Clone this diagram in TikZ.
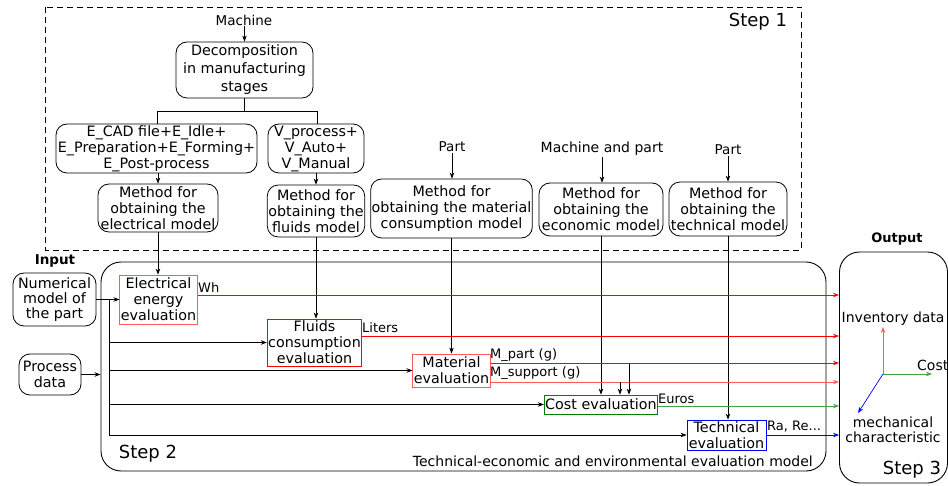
\documentclass[tikz,border=0pt]{standalone}
\usepackage{fontspec}
\setmainfont{DejaVu Sans}
\usetikzlibrary{arrows.meta}
\definecolor{lred}{RGB}{255,90,90}
\definecolor{dgreen}{RGB}{0,128,0}
\definecolor{lgreen}{RGB}{70,160,70}
\begin{document}
\begin{tikzpicture}[x=1pt,y=-1pt,
  every node/.style={inner sep=1pt},
  txt/.style={font=\fontsize{14.3}{16}\selectfont, align=center},
  lbl/.style={font=\fontsize{13}{15}\selectfont},
  biglbl/.style={font=\fontsize{14}{15.5}\selectfont},
  steplbl/.style={font=\fontsize{18}{20}\selectfont},
  rbox/.style={txt, draw, rounded corners=11pt, line width=0.8pt},
  ebox/.style={txt, draw, line width=0.8pt},
  arr/.style={-{Stealth[length=6pt,width=4.5pt]}, line width=0.7pt},
  bigbox/.style={draw, rounded corners=20pt, line width=0.9pt}
]
\useasboundingbox (0,0) rectangle (948,486);

% ---------- Step 1 ----------
\draw[line width=0.7pt, dash pattern=on 6pt off 4pt] (45.5,7.5) rectangle (801.5,250);
\node[steplbl] (st1) at (758,22) {Step 1};

\node[txt, font=\fontsize{13.5}{16}\selectfont] (machine) at (244,20) {Machine};
\node[rbox, minimum width=137, minimum height=56, font=\fontsize{14.3}{18}\selectfont] (decomp) at (244.5,70)
  {Decomposition\\in manufacturing\\stages};
\node[rbox, minimum width=201, minimum height=49] (ecad) at (156.5,148.5)
  {E\_CAD file+E\_Idle+\\E\_Preparation+E\_Forming+\\E\_Post-process};
\node[rbox, minimum width=96, minimum height=49] (vproc) at (316,148.5)
  {V\_process+\\V\_Auto+\\V\_Manual};
\node[rbox, minimum width=120, minimum height=48] (melec) at (158,208)
  {Method for\\obtaining the\\electrical model};
\node[rbox, minimum width=94, minimum height=52] (mfluid) at (316,211)
  {Method for\\obtaining the\\fluids model};
\node[rbox, minimum width=159, minimum height=59] (mmat) at (451.5,208.5)
  {Method for\\obtaining the material\\consumption model};
\node[rbox, minimum width=124, minimum height=53] (meco) at (601,209.5)
  {Method for\\obtaining the\\economic model};
\node[rbox, minimum width=118, minimum height=54] (mtech) at (728,209)
  {Method for\\obtaining the\\technical model};

\node[txt, font=\fontsize{13.5}{16}\selectfont] (part1) at (452,147) {Part};
\node[txt, font=\fontsize{14}{16}\selectfont] (machpart) at (602,149) {Machine and part};
\node[txt, font=\fontsize{13.5}{16}\selectfont] (part2) at (728,150) {Part};

\draw[arr] (machine.south -| decomp.north) -- (decomp.north);
\coordinate (split) at (244.5,111);
\coordinate (splitl) at (157,111);
\coordinate (splitr) at (317,111);
\draw[line width=0.7pt] (decomp.south) -- (split);
\draw[line width=0.7pt] (splitl) -- (splitr);
\draw[line width=0.7pt] (splitl) -- (splitl |- ecad.north);
\draw[line width=0.7pt] (splitr) -- (splitr |- vproc.north);
\draw[arr] (ecad.south -| melec.north) -- (melec.north);
\draw[arr] (vproc.south -| mfluid.north) -- (mfluid.north);
\draw[arr] (part1.south) -- (part1.south |- mmat.north);
\draw[arr] (machpart.south) -- (machpart.south |- meco.north);
\draw[arr] (part2.south) -- (part2.south |- mtech.north);

% ---------- Step 2 ----------
\node[bigbox, minimum width=725, minimum height=209] (s2) at (463.5,366.5) {};
\node[steplbl] (st2) at (148,454) {Step 2};
\node[biglbl, anchor=east] (model) at (814,461) {Technical-economic and environmental evaluation model};

\node[txt, font=\fontsize{13.5}{16}\bfseries] (input) at (55,261) {Input};
\node[rbox, minimum width=83, minimum height=53, font=\fontsize{14.3}{15}\selectfont] (num) at (54.5,299.5)
  {Numerical\\model of\\the part};
\node[rbox, minimum width=62, minimum height=41] (proc) at (50,374.5) {Process\\data};

\node[ebox, draw=lred, minimum width=75, minimum height=49] (elec) at (158.5,299.5)
  {Electrical\\energy\\evaluation};
\node[ebox, draw=red, minimum width=93, minimum height=47] (fluid) at (314.5,342.5)
  {Fluids\\consumption\\evaluation};
\node[ebox, draw=lred, minimum width=77, minimum height=33] (mat) at (451.5,370.5)
  {Material\\evaluation};
\node[ebox, draw=dgreen, minimum width=112, minimum height=19] (cost) at (601,404.5)
  {Cost evaluation};
\node[ebox, draw=blue, minimum width=79, minimum height=30] (tech) at (726.5,435)
  {Technical\\evaluation};

% inputs
\draw[arr] (num.east) -- (elec.west);
\coordinate (bus) at (109,300);
\draw[line width=0.7pt] (bus) -- (bus |- tech.west);
\draw[arr] (bus |- fluid.west) -- (fluid.west);
\draw[arr] (bus |- mat.west) -- (mat.west);
\draw[arr] (bus |- cost.west) -- (cost.west);
\draw[arr] (bus |- tech.west) -- (tech.west);
\draw[arr] (proc.east) -- (s2.west |- proc.east);

% from step 1 methods
\draw[arr] (melec.south) -- (melec.south |- elec.north);
\draw[arr] (mfluid.south) -- (mfluid.south |- fluid.north);
\draw[arr] (mmat.south) -- (mmat.south |- mat.north);
\draw[arr] (meco.south) -- (meco.south |- cost.north);
\draw[arr] (mtech.south) -- (mtech.south |- tech.north);

% ---------- Output ----------
\node[txt, font=\fontsize{13}{15}\bfseries] (output) at (897,239) {Output};
\node[bigbox, minimum width=108, minimum height=231] (out) at (893.5,367.5) {};
\node[steplbl] (st3) at (912,470) {Step 3};

\coordinate (whs) at ([yshift=4.5pt]elec.east);
\coordinate (lis) at ([yshift=6.5pt]fluid.east);
\coordinate (mps) at ([yshift=7.5pt]mat.east);
\coordinate (mss) at ([yshift=-11.5pt]mat.east);
\coordinate (eus) at ([yshift=-1.5pt]cost.east);
\draw[arr, red] (whs) -- (out.west |- whs);
\node[lbl, anchor=west] (wh) at (197,288) {Wh};
\draw[arr, red] (lis) -- (out.west |- lis);
\node[lbl, anchor=west] (liters) at (361,328) {Liters};
\draw[arr, red] (mps) -- (out.west |- mps);
\node[lbl, anchor=west] (mpart) at (489,355) {M\_part (g)};
\draw[arr, lred] (mss) -- (out.west |- mss);
\node[lbl, anchor=west] (msup) at (489,373) {M\_support (g)};
\draw[arr, lgreen] (eus) -- (out.west |- eus);
\node[lbl, anchor=west] (euros) at (657,399) {Euros};
\draw[arr, blue] (tech.east) -- (out.west |- tech.east);
\node[lbl, anchor=west] (ra) at (766,427) {Ra, Re...};

% extra arrows into cost
\coordinate (mp) at (629,364);
\coordinate (ms) at (620,382);
\draw[arr] (mp) -- (mp |- cost.north);
\draw[arr] (ms) -- (ms |- cost.north);

% axes
\coordinate (o) at (883,374);
\coordinate (ay) at (883,327);
\coordinate (ax) at (932,374);
\coordinate (az) at (858,413);
\draw[arr, lred] (o) -- (ay);
\draw[arr, lgreen] (o) -- (ax);
\draw[arr, blue] (o) -- (az);
\node[biglbl, anchor=west] (inv) at (840.5,319) {Inventory data};
\node[biglbl, anchor=west] (costl) at (916,365) {Cost};
\node[biglbl, align=center] (mech) at (893,430) {mechanical\\characteristic};
\end{tikzpicture}
\end{document}
